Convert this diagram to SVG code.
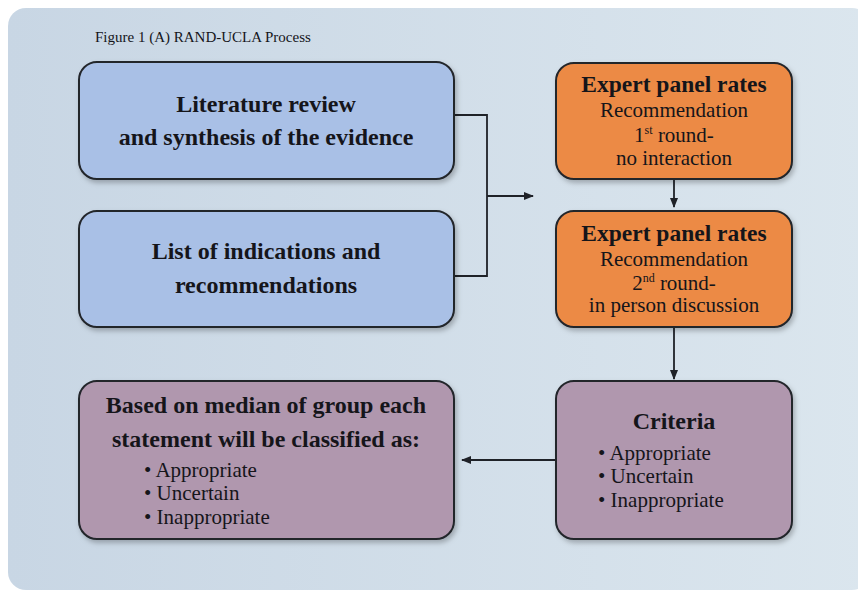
<svg xmlns="http://www.w3.org/2000/svg" width="858" height="591" viewBox="0 0 858 591">
<defs>
<linearGradient id="bg" x1="0" y1="0" x2="1" y2="0">
<stop offset="0" stop-color="#c8d6e4"/>
<stop offset="1" stop-color="#dbe6ee"/>
</linearGradient>
<filter id="sh" x="-10%" y="-10%" width="125%" height="130%">
<feDropShadow dx="2" dy="3" stdDeviation="2.5" flood-color="#000" flood-opacity="0.25"/>
</filter>
<marker id="ah" viewBox="0 0 10 10" refX="9" refY="5" markerWidth="10" markerHeight="10" markerUnits="userSpaceOnUse" orient="auto">
<path d="M0,1 L10,5 L0,9 z" fill="#1f2228"/>
</marker>
<style>
.box{stroke:#22252b;stroke-width:2}
.blue{fill:#a9c0e6}
.orange{fill:#ec8a44}
.purple{fill:#b097ae}
text{font-family:"Liberation Serif","Times New Roman",serif;fill:#15151a}
.b{font-weight:bold;font-size:24px}
.r{font-size:21px}
.ob{font-weight:bold;font-size:23.5px}
.c{text-anchor:middle}
.conn{fill:none;stroke:#1f2228;stroke-width:1.8}
</style>
</defs>
<rect x="0" y="0" width="858" height="591" fill="#ffffff"/>
<rect x="8" y="8" width="862" height="582" rx="18" fill="url(#bg)"/>
<text x="95" y="42" font-size="15">Figure 1 (A) RAND-UCLA Process</text>

<g id="connectors">
<path class="conn" d="M454,115 H487 V276 H454"/>
<path class="conn" d="M487,196 H533" marker-end="url(#ah)"/>
<path class="conn" d="M674,179 V207" marker-end="url(#ah)"/>
<path class="conn" d="M674,328 V379" marker-end="url(#ah)"/>
<path class="conn" d="M555,460 H462" marker-end="url(#ah)"/>
</g>

<g id="lit">
<rect class="box blue" x="79" y="62" width="375" height="117" rx="18" filter="url(#sh)"/>
<text class="b c" x="266" y="112">Literature review</text>
<text class="b c" x="266" y="145">and synthesis of the evidence</text>
</g>

<g id="list">
<rect class="box blue" x="79" y="211" width="375" height="116" rx="18" filter="url(#sh)"/>
<text class="b c" x="266" y="259">List of indications and</text>
<text class="b c" x="266" y="293">recommendations</text>
</g>

<g id="panel1">
<rect class="box orange" x="556" y="63" width="236" height="116" rx="18" filter="url(#sh)"/>
<text class="ob c" x="674" y="92">Expert panel rates</text>
<text class="r c" x="674" y="116.5" font-size="20.5">Recommendation</text>
<text class="r c" x="674" y="142">1<tspan font-size="12" dy="-8">st</tspan><tspan dy="8"> round-</tspan></text>
<text class="r c" x="674" y="165">no interaction</text>
</g>

<g id="panel2">
<rect class="box orange" x="556" y="211" width="236" height="116" rx="18" filter="url(#sh)"/>
<text class="ob c" x="674" y="241">Expert panel rates</text>
<text class="r c" x="674" y="265.5" font-size="20.5">Recommendation</text>
<text class="r c" x="674" y="290">2<tspan font-size="12" dy="-8">nd</tspan><tspan dy="8"> round-</tspan></text>
<text class="r c" x="674" y="312">in person discussion</text>
</g>

<g id="criteria">
<rect class="box purple" x="556" y="381" width="236" height="158" rx="18" filter="url(#sh)"/>
<text class="b c" x="674" y="429">Criteria</text>
<text class="r" x="598" y="460">• Appropriate</text>
<text class="r" x="598" y="483">• Uncertain</text>
<text class="r" x="598" y="507">• Inappropriate</text>
</g>

<g id="classified">
<rect class="box purple" x="79" y="381" width="375" height="158" rx="18" filter="url(#sh)"/>
<text class="b c" x="266" y="413">Based on median of group each</text>
<text class="b c" x="266" y="447">statement will be classified as:</text>
<text class="r" x="144" y="477">• Appropriate</text>
<text class="r" x="144" y="500">• Uncertain</text>
<text class="r" x="144" y="524">• Inappropriate</text>
</g>
</svg>
